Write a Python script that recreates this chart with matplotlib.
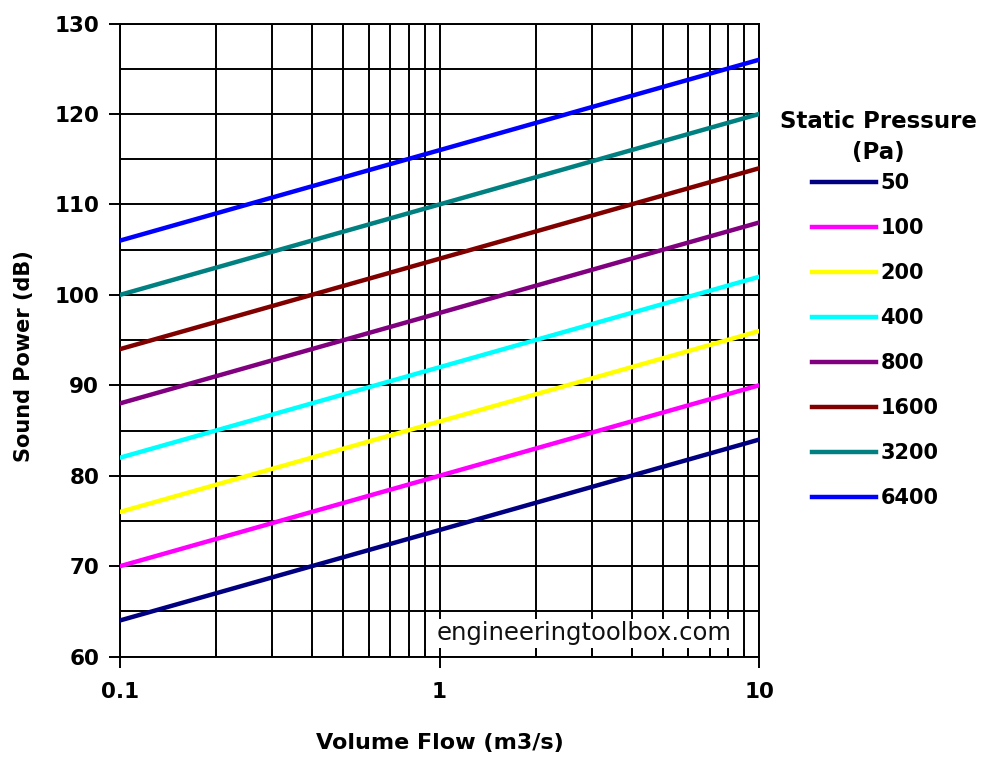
import matplotlib.pyplot as plt
from matplotlib.ticker import LogLocator, MultipleLocator, FixedLocator, NullFormatter

plt.rcParams['font.family'] = ['DejaVu Sans']

# data
flow = [0.1, 1, 10]  # m3/s
pressures = ['50', '100', '200', '400', '800', '1600', '3200', '6400']
p50 = [64, 74, 84]
p100 = [70, 80, 90]
p200 = [76, 86, 96]
p400 = [82, 92, 102]
p800 = [88, 98, 108]
p1600 = [94, 104, 114]
p3200 = [100, 110, 120]
p6400 = [106, 116, 126]
series = [p50, p100, p200, p400, p800, p1600, p3200, p6400]
colors = ['#000080', '#FF00FF', '#FFFF00', '#00FFFF',
          '#800080', '#800000', '#008080', '#0000FF']

fig = plt.figure(figsize=(9.89, 7.6), dpi=100)
ax = fig.add_axes([0.1213, 0.136, 0.6462, 0.833])

for vals, c, lab in zip(series, colors, pressures):
    ax.plot(flow, vals, color=c, lw=3.2, label=lab, zorder=3)

ax.set_xscale('log')
ax.set_xlim(0.1, 10)
ax.set_ylim(60, 130)

ax.xaxis.set_major_locator(FixedLocator([0.1, 1, 10]))
ax.xaxis.set_major_formatter(plt.FixedFormatter(['0.1', '1', '10']))
ax.xaxis.set_minor_locator(LogLocator(base=10, subs=range(2, 10)))
ax.xaxis.set_minor_formatter(NullFormatter())
ax.yaxis.set_major_locator(MultipleLocator(10))
ax.yaxis.set_minor_locator(MultipleLocator(5))

ax.grid(True, which='both', color='black', lw=1.4)
ax.tick_params(axis='both', which='major', direction='out', length=8, width=1.4,
               labelsize=15.5)
ax.tick_params(axis='y', which='major', pad=7)
ax.tick_params(axis='x', which='major', pad=10)
ax.tick_params(axis='x', which='minor', direction='in', length=6, width=1.4)
ax.tick_params(axis='y', which='minor', length=0)
for lbl in ax.get_xticklabels() + ax.get_yticklabels():
    lbl.set_fontweight('bold')
for s in ax.spines.values():
    s.set_linewidth(1.4)

ax.set_xlabel('Volume Flow (m3/s)', fontsize=16, fontweight='bold')
ax.xaxis.set_label_coords(0.5, -0.121)
ax.set_ylabel('Sound Power (dB)', fontsize=15, fontweight='bold')
ax.yaxis.set_label_coords(-0.134, 0.475)

ax.text(0.726, 0.037, 'engineeringtoolbox.com', transform=ax.transAxes,
        ha='center', va='center', fontsize=17.5, color='#111111', zorder=5,
        bbox=dict(facecolor='white', edgecolor='none', pad=2))

# legend title drawn on its own so the spacing can follow the original
fig.text(878 / 989, 1 - 137 / 760, 'Static Pressure\n(Pa)', ha='center', va='center',
         multialignment='center', fontsize=16.5, fontweight='bold', linespacing=1.45)
leg = fig.legend(loc='upper center', bbox_to_anchor=(875 / 989, 1 - 173 / 760),
                 frameon=False, prop={'size': 15, 'weight': 'bold'},
                 handlelength=3.1, handletextpad=0.2, labelspacing=1.2,
                 borderaxespad=0, borderpad=0)

fig.savefig('out.png', dpi=100)
